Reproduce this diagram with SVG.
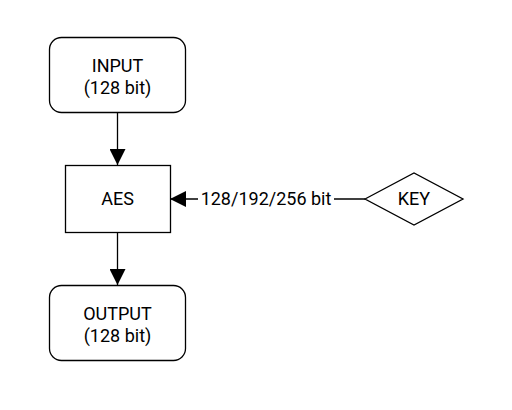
<svg xmlns="http://www.w3.org/2000/svg" width="512" height="410" viewBox="0 0 512 410">
<style>
.box{fill:#fff;stroke:#000;stroke-width:1.3}
.t{font-family:Roboto,"Liberation Sans",sans-serif;font-size:18px;fill:#000;text-anchor:middle}
.ln{stroke:#000;stroke-width:1.3;fill:none}
</style>
<defs>
<marker id="ah" viewBox="0 0 16 16" refX="16" refY="8" markerWidth="16" markerHeight="16" markerUnits="userSpaceOnUse" orient="auto">
<path d="M0,0 L16,8 L0,16 Z" fill="#000"/>
</marker>
</defs>
<rect width="512" height="410" fill="#fff"/>
<g id="connectors">
<line class="ln" x1="117.5" y1="112" x2="117.5" y2="165" marker-end="url(#ah)"/>
<line class="ln" x1="117.5" y1="232" x2="117.5" y2="285" marker-end="url(#ah)"/>
<line class="ln" x1="365" y1="199" x2="170" y2="199" marker-end="url(#ah)"/>
<rect x="198" y="188" width="136" height="22" fill="#fff"/>
<text class="t" x="266" y="205">128/192/256 bit</text>
</g>
<g id="input">
<rect class="box" x="49.5" y="37.5" width="136" height="75" rx="12"/>
<text class="t" x="117.5" y="72">INPUT</text>
<text class="t" x="117.5" y="94">(128 bit)</text>
</g>
<g id="aes">
<rect class="box" x="65.5" y="165.5" width="105" height="67"/>
<text class="t" x="117.5" y="205">AES</text>
</g>
<g id="key">
<path class="box" d="M365,199 L414,173 L463,199 L414,225 Z"/>
<text class="t" x="414" y="205">KEY</text>
</g>
<g id="output">
<rect class="box" x="49.5" y="285.5" width="136" height="75" rx="12"/>
<text class="t" x="117.5" y="320">OUTPUT</text>
<text class="t" x="117.5" y="342">(128 bit)</text>
</g>
</svg>
